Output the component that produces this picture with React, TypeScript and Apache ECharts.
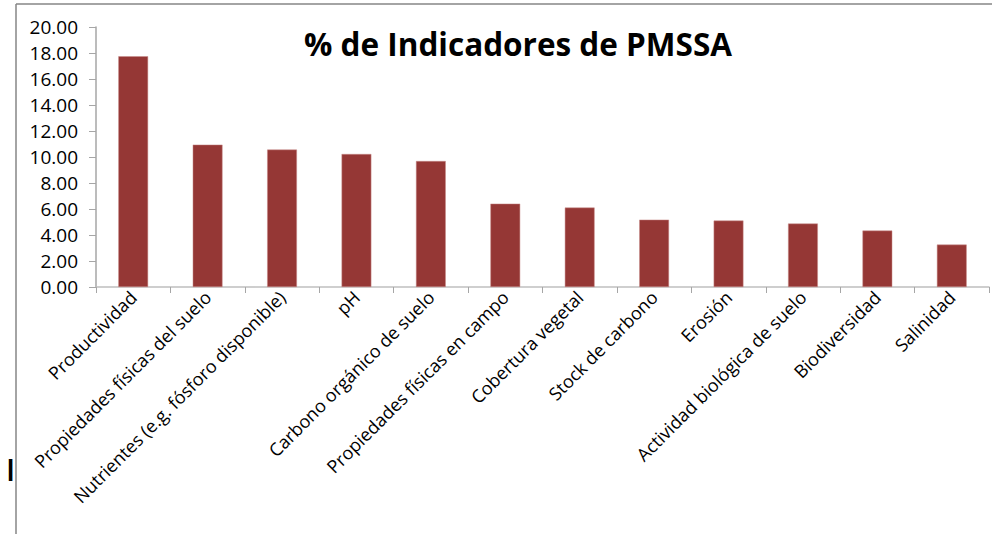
import React, { useEffect, useRef } from "react";
import * as echarts from "echarts";

const categories = [
  "Productividad",
  "Propiedades físicas del suelo",
  "Nutrientes (e.g. fósforo disponible)",
  "pH",
  "Carbono orgánico de suelo",
  "Propiedades físicas en campo",
  "Cobertura vegetal",
  "Stock de carbono",
  "Erosión",
  "Actividad biológica de suelo",
  "Biodiversidad",
  "Salinidad",
];
const values = [17.75, 10.95, 10.57, 10.23, 9.69, 6.41, 6.11, 5.18, 5.11, 4.88, 4.34, 3.26];
const titleText = "% de Indicadores de PMSSA";
const yMin = 0;
const yMax = 20;
const yInterval = 2;

export default function App() {
  const ref = useRef<HTMLDivElement>(null);
  useEffect(() => {
    if (!ref.current) return;
    const chart = echarts.init(ref.current, null, { renderer: "svg" });
    const font = "'Open Sans', 'Noto Sans', sans-serif";
    chart.setOption({
      animation: false,
      backgroundColor: "#ffffff",
      title: {
        text: titleText,
        left: 513,
        top: 22,
        textAlign: "center",
        textStyle: { fontFamily: font, fontWeight: "bold", fontSize: 31.5, color: "#000000" },
      },
      grid: { left: 96, right: 3, top: 27, bottom: 247, containLabel: false },
      xAxis: {
        type: "category",
        data: categories,
        boundaryGap: true,
        axisLine: { lineStyle: { color: "#bfbfbf", width: 1.5 } },
        axisTick: { show: true, length: 6, alignWithLabel: false, lineStyle: { color: "#a6a6a6" } },
        axisLabel: {
          interval: 0,
          rotate: 45,
          margin: 7,
          fontFamily: font,
          fontSize: 18,
          color: "#000000",
        },
      },
      yAxis: {
        type: "value",
        min: yMin,
        max: yMax,
        interval: yInterval,
        axisLine: { show: true, lineStyle: { color: "#a6a6a6", width: 1.5 } },
        axisTick: { show: true, length: 7, lineStyle: { color: "#a6a6a6" } },
        splitLine: { show: false },
        axisLabel: {
          margin: 18,
          fontFamily: font,
          fontSize: 19,
          color: "#000000",
          formatter: (v: number) => v.toFixed(2),
        },
      },
      series: [
        {
          type: "bar",
          data: values,
          barWidth: "40%",
          itemStyle: { color: "#953735", borderColor: "#c98c8a", borderWidth: 0.5 },
        },
      ],
      graphic: [
        {
          type: "line",
          shape: { x1: 16, y1: 4, x2: 992, y2: 4 },
          style: { stroke: "#868686", lineWidth: 1.5 },
        },
        {
          type: "line",
          shape: { x1: 16, y1: 4, x2: 16, y2: 534 },
          style: { stroke: "#868686", lineWidth: 1.5 },
        },
        {
          type: "text",
          x: 6,
          y: 454,
          style: { text: "I", fontFamily: font, fontSize: 30, fontWeight: 600, fill: "#000000" },
        },
      ],
    });
    return () => chart.dispose();
  }, []);
  return (
    <div
      ref={ref}
      style={{ position: "fixed", left: 0, top: 0, width: 992, height: 534 }}
    />
  );
}
